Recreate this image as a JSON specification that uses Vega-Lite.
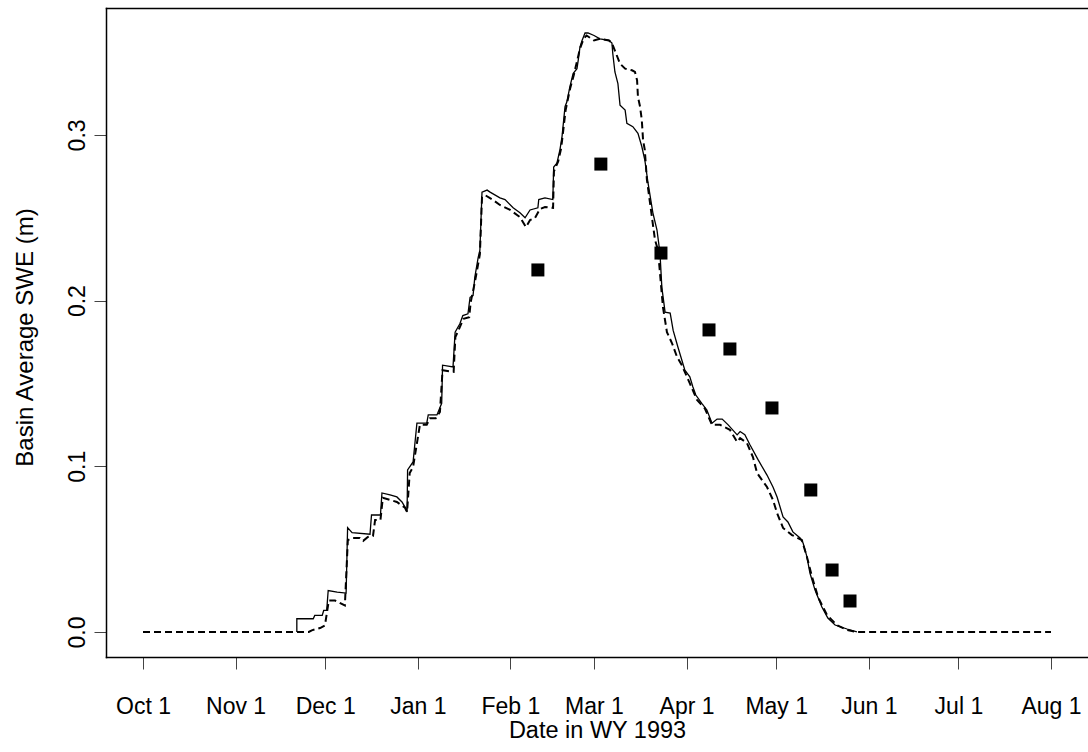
{
  "$schema": "https://vega.github.io/schema/vega-lite/v6.json",
  "width": 982,
  "height": 649,
  "autosize": {"type": "none"},
  "padding": {"left": 106, "top": 8, "right": 0, "bottom": 95},
  "background": "white",
  "config": {
    "view": {"stroke": null},
    "font": "Liberation Sans",
    "axis": {
      "labelFont": "Liberation Sans",
      "titleFont": "Liberation Sans",
      "labelColor": "#000",
      "titleColor": "#000",
      "titleFontWeight": "normal",
      "grid": false,
      "domainColor": "#000",
      "domainWidth": 1.5,
      "domainCap": "square",
      "tickColor": "#444",
      "tickWidth": 1,
      "tickSize": 12
    }
  },
  "datasets": {
    "sim1": [
      {"date": "1992-11-21T12:00Z", "swe": 0},
      {"date": "1992-11-21T12:00Z", "swe": 0.008},
      {"date": "1992-11-27T00:00Z", "swe": 0.008},
      {"date": "1992-11-27T12:00Z", "swe": 0.010},
      {"date": "1992-11-30T00:00Z", "swe": 0.010},
      {"date": "1992-11-30T12:00Z", "swe": 0.013},
      {"date": "1992-12-01T12:00Z", "swe": 0.013},
      {"date": "1992-12-02T00:00Z", "swe": 0.025},
      {"date": "1992-12-05T00:00Z", "swe": 0.024},
      {"date": "1992-12-08T00:00Z", "swe": 0.0235},
      {"date": "1992-12-08T12:00Z", "swe": 0.063},
      {"date": "1992-12-10T00:00Z", "swe": 0.060},
      {"date": "1992-12-16T00:00Z", "swe": 0.059},
      {"date": "1992-12-16T12:00Z", "swe": 0.0706},
      {"date": "1992-12-19T12:00Z", "swe": 0.0706},
      {"date": "1992-12-20T00:00Z", "swe": 0.0839},
      {"date": "1992-12-22T17:00Z", "swe": 0.0827},
      {"date": "1992-12-25T00:00Z", "swe": 0.0815},
      {"date": "1992-12-26T17:00Z", "swe": 0.0785},
      {"date": "1992-12-27T17:00Z", "swe": 0.0754},
      {"date": "1992-12-28T10:00Z", "swe": 0.0724},
      {"date": "1992-12-28T14:00Z", "swe": 0.0978},
      {"date": "1992-12-30T10:00Z", "swe": 0.1026},
      {"date": "1992-12-31T17:00Z", "swe": 0.126},
      {"date": "1993-01-04T00:00Z", "swe": 0.126},
      {"date": "1993-01-04T12:00Z", "swe": 0.131},
      {"date": "1993-01-07T10:00Z", "swe": 0.131},
      {"date": "1993-01-09T00:00Z", "swe": 0.138},
      {"date": "1993-01-09T07:00Z", "swe": 0.161},
      {"date": "1993-01-12T19:00Z", "swe": 0.160},
      {"date": "1993-01-13T12:00Z", "swe": 0.181},
      {"date": "1993-01-15T02:00Z", "swe": 0.186},
      {"date": "1993-01-16T02:00Z", "swe": 0.191},
      {"date": "1993-01-17T19:00Z", "swe": 0.192},
      {"date": "1993-01-18T12:00Z", "swe": 0.202},
      {"date": "1993-01-19T12:00Z", "swe": 0.203},
      {"date": "1993-01-20T02:00Z", "swe": 0.214},
      {"date": "1993-01-21T05:00Z", "swe": 0.226},
      {"date": "1993-01-21T19:00Z", "swe": 0.2305},
      {"date": "1993-01-22T12:00Z", "swe": 0.2655},
      {"date": "1993-01-24T05:00Z", "swe": 0.2667},
      {"date": "1993-01-25T05:00Z", "swe": 0.2655},
      {"date": "1993-01-28T12:00Z", "swe": 0.262},
      {"date": "1993-01-30T05:00Z", "swe": 0.261},
      {"date": "1993-02-01T22:00Z", "swe": 0.256},
      {"date": "1993-02-04T05:00Z", "swe": 0.253},
      {"date": "1993-02-05T22:00Z", "swe": 0.250},
      {"date": "1993-02-07T14:00Z", "swe": 0.2547},
      {"date": "1993-02-10T05:00Z", "swe": 0.256},
      {"date": "1993-02-10T12:00Z", "swe": 0.261},
      {"date": "1993-02-12T14:00Z", "swe": 0.262},
      {"date": "1993-02-15T05:00Z", "swe": 0.261},
      {"date": "1993-02-15T12:00Z", "swe": 0.2806},
      {"date": "1993-02-16T14:00Z", "swe": 0.283},
      {"date": "1993-02-17T14:00Z", "swe": 0.291},
      {"date": "1993-02-18T07:00Z", "swe": 0.299},
      {"date": "1993-02-19T07:00Z", "swe": 0.317},
      {"date": "1993-02-19T22:00Z", "swe": 0.320},
      {"date": "1993-02-20T22:00Z", "swe": 0.329},
      {"date": "1993-02-22T00:00Z", "swe": 0.337},
      {"date": "1993-02-23T07:00Z", "swe": 0.340},
      {"date": "1993-02-23T17:00Z", "swe": 0.345},
      {"date": "1993-02-24T07:00Z", "swe": 0.353},
      {"date": "1993-02-25T00:00Z", "swe": 0.357},
      {"date": "1993-02-26T00:00Z", "swe": 0.3615},
      {"date": "1993-02-27T00:00Z", "swe": 0.3615},
      {"date": "1993-03-01T00:00Z", "swe": 0.360},
      {"date": "1993-03-03T00:00Z", "swe": 0.358},
      {"date": "1993-03-06T00:00Z", "swe": 0.357},
      {"date": "1993-03-07T00:00Z", "swe": 0.3555},
      {"date": "1993-03-07T07:00Z", "swe": 0.349},
      {"date": "1993-03-08T00:00Z", "swe": 0.338},
      {"date": "1993-03-09T00:00Z", "swe": 0.331},
      {"date": "1993-03-09T17:00Z", "swe": 0.318},
      {"date": "1993-03-11T10:00Z", "swe": 0.315},
      {"date": "1993-03-12T00:00Z", "swe": 0.307},
      {"date": "1993-03-14T00:00Z", "swe": 0.305},
      {"date": "1993-03-15T17:00Z", "swe": 0.301},
      {"date": "1993-03-17T00:00Z", "swe": 0.293},
      {"date": "1993-03-18T00:00Z", "swe": 0.285},
      {"date": "1993-03-19T02:00Z", "swe": 0.271},
      {"date": "1993-03-20T17:00Z", "swe": 0.253},
      {"date": "1993-03-22T02:00Z", "swe": 0.2426},
      {"date": "1993-03-23T02:00Z", "swe": 0.2287},
      {"date": "1993-03-23T17:00Z", "swe": 0.208},
      {"date": "1993-03-24T19:00Z", "swe": 0.193},
      {"date": "1993-03-26T12:00Z", "swe": 0.1925},
      {"date": "1993-03-27T12:00Z", "swe": 0.182},
      {"date": "1993-03-29T02:00Z", "swe": 0.172},
      {"date": "1993-03-31T10:00Z", "swe": 0.158},
      {"date": "1993-04-02T02:00Z", "swe": 0.154},
      {"date": "1993-04-03T02:00Z", "swe": 0.148},
      {"date": "1993-04-04T02:00Z", "swe": 0.143},
      {"date": "1993-04-06T02:00Z", "swe": 0.138},
      {"date": "1993-04-07T19:00Z", "swe": 0.134},
      {"date": "1993-04-09T12:00Z", "swe": 0.126},
      {"date": "1993-04-11T05:00Z", "swe": 0.1285},
      {"date": "1993-04-12T22:00Z", "swe": 0.1285},
      {"date": "1993-04-14T22:00Z", "swe": 0.125},
      {"date": "1993-04-17T22:00Z", "swe": 0.119},
      {"date": "1993-04-18T22:00Z", "swe": 0.121},
      {"date": "1993-04-20T12:00Z", "swe": 0.119},
      {"date": "1993-04-22T05:00Z", "swe": 0.113},
      {"date": "1993-04-24T22:00Z", "swe": 0.104},
      {"date": "1993-04-27T22:00Z", "swe": 0.0947},
      {"date": "1993-04-29T22:00Z", "swe": 0.0875},
      {"date": "1993-05-01T07:00Z", "swe": 0.0815},
      {"date": "1993-05-03T07:00Z", "swe": 0.0694},
      {"date": "1993-05-04T22:00Z", "swe": 0.0664},
      {"date": "1993-05-06T14:00Z", "swe": 0.0604},
      {"date": "1993-05-09T00:00Z", "swe": 0.0567},
      {"date": "1993-05-10T00:00Z", "swe": 0.0537},
      {"date": "1993-05-11T07:00Z", "swe": 0.0453},
      {"date": "1993-05-12T07:00Z", "swe": 0.0356},
      {"date": "1993-05-14T00:00Z", "swe": 0.0253},
      {"date": "1993-05-16T07:00Z", "swe": 0.0151},
      {"date": "1993-05-18T07:00Z", "swe": 0.0084},
      {"date": "1993-05-20T17:00Z", "swe": 0.0042},
      {"date": "1993-05-24T17:00Z", "swe": 0.0018},
      {"date": "1993-05-28T00:00Z", "swe": 0}
    ],
    "sim2": [
      {"date": "1992-10-01T00:00Z", "swe": 0},
      {"date": "1992-11-25T12:00Z", "swe": 0},
      {"date": "1992-11-26T12:00Z", "swe": 0.001},
      {"date": "1992-11-29T07:00Z", "swe": 0.0024},
      {"date": "1992-11-30T22:00Z", "swe": 0.004},
      {"date": "1992-12-01T00:00Z", "swe": 0.005},
      {"date": "1992-12-02T05:00Z", "swe": 0.019},
      {"date": "1992-12-04T07:00Z", "swe": 0.019},
      {"date": "1992-12-07T14:00Z", "swe": 0.016},
      {"date": "1992-12-08T14:00Z", "swe": 0.0555},
      {"date": "1992-12-10T00:00Z", "swe": 0.0567},
      {"date": "1992-12-12T14:00Z", "swe": 0.0567},
      {"date": "1992-12-13T17:00Z", "swe": 0.055},
      {"date": "1992-12-15T07:00Z", "swe": 0.0573},
      {"date": "1992-12-17T00:00Z", "swe": 0.058},
      {"date": "1992-12-17T17:00Z", "swe": 0.0676},
      {"date": "1992-12-19T12:00Z", "swe": 0.0676},
      {"date": "1992-12-20T07:00Z", "swe": 0.081},
      {"date": "1992-12-25T00:00Z", "swe": 0.0785},
      {"date": "1992-12-27T17:00Z", "swe": 0.075},
      {"date": "1992-12-28T10:00Z", "swe": 0.0724},
      {"date": "1992-12-29T07:00Z", "swe": 0.096},
      {"date": "1992-12-30T10:00Z", "swe": 0.0996},
      {"date": "1993-01-01T17:00Z", "swe": 0.125},
      {"date": "1993-01-04T00:00Z", "swe": 0.125},
      {"date": "1993-01-05T02:00Z", "swe": 0.129},
      {"date": "1993-01-07T00:00Z", "swe": 0.129},
      {"date": "1993-01-08T10:00Z", "swe": 0.1328},
      {"date": "1993-01-09T07:00Z", "swe": 0.158},
      {"date": "1993-01-13T00:00Z", "swe": 0.157},
      {"date": "1993-01-13T14:00Z", "swe": 0.178},
      {"date": "1993-01-15T02:00Z", "swe": 0.184},
      {"date": "1993-01-16T07:00Z", "swe": 0.189},
      {"date": "1993-01-18T05:00Z", "swe": 0.190},
      {"date": "1993-01-18T17:00Z", "swe": 0.199},
      {"date": "1993-01-20T05:00Z", "swe": 0.212},
      {"date": "1993-01-21T19:00Z", "swe": 0.228},
      {"date": "1993-01-22T12:00Z", "swe": 0.2625},
      {"date": "1993-01-23T12:00Z", "swe": 0.2637},
      {"date": "1993-01-26T05:00Z", "swe": 0.2607},
      {"date": "1993-01-28T12:00Z", "swe": 0.2577},
      {"date": "1993-01-31T22:00Z", "swe": 0.2547},
      {"date": "1993-02-04T05:00Z", "swe": 0.2504},
      {"date": "1993-02-06T05:00Z", "swe": 0.2444},
      {"date": "1993-02-07T14:00Z", "swe": 0.2486},
      {"date": "1993-02-09T05:00Z", "swe": 0.2498},
      {"date": "1993-02-10T22:00Z", "swe": 0.2553},
      {"date": "1993-02-12T14:00Z", "swe": 0.2565},
      {"date": "1993-02-15T07:00Z", "swe": 0.2559},
      {"date": "1993-02-15T14:00Z", "swe": 0.278},
      {"date": "1993-02-17T00:00Z", "swe": 0.284},
      {"date": "1993-02-18T00:00Z", "swe": 0.292},
      {"date": "1993-02-19T12:00Z", "swe": 0.315},
      {"date": "1993-02-21T00:00Z", "swe": 0.328},
      {"date": "1993-02-22T05:00Z", "swe": 0.336},
      {"date": "1993-02-24T07:00Z", "swe": 0.352},
      {"date": "1993-02-25T12:00Z", "swe": 0.358},
      {"date": "1993-02-26T12:00Z", "swe": 0.360},
      {"date": "1993-03-01T00:00Z", "swe": 0.357},
      {"date": "1993-03-03T00:00Z", "swe": 0.358},
      {"date": "1993-03-06T00:00Z", "swe": 0.357},
      {"date": "1993-03-07T00:00Z", "swe": 0.3555},
      {"date": "1993-03-09T17:00Z", "swe": 0.343},
      {"date": "1993-03-11T10:00Z", "swe": 0.340},
      {"date": "1993-03-13T17:00Z", "swe": 0.339},
      {"date": "1993-03-14T17:00Z", "swe": 0.338},
      {"date": "1993-03-15T10:00Z", "swe": 0.333},
      {"date": "1993-03-15T17:00Z", "swe": 0.323},
      {"date": "1993-03-16T10:00Z", "swe": 0.317},
      {"date": "1993-03-17T00:00Z", "swe": 0.309},
      {"date": "1993-03-17T10:00Z", "swe": 0.297},
      {"date": "1993-03-18T00:00Z", "swe": 0.291},
      {"date": "1993-03-18T17:00Z", "swe": 0.273},
      {"date": "1993-03-21T10:00Z", "swe": 0.2366},
      {"date": "1993-03-22T10:00Z", "swe": 0.2305},
      {"date": "1993-03-23T02:00Z", "swe": 0.2167},
      {"date": "1993-03-24T02:00Z", "swe": 0.196},
      {"date": "1993-03-25T10:00Z", "swe": 0.181},
      {"date": "1993-03-27T02:00Z", "swe": 0.1744},
      {"date": "1993-03-28T19:00Z", "swe": 0.166},
      {"date": "1993-03-30T10:00Z", "swe": 0.161},
      {"date": "1993-04-02T02:00Z", "swe": 0.150},
      {"date": "1993-04-04T12:00Z", "swe": 0.140},
      {"date": "1993-04-07T02:00Z", "swe": 0.135},
      {"date": "1993-04-09T12:00Z", "swe": 0.125},
      {"date": "1993-04-12T05:00Z", "swe": 0.125},
      {"date": "1993-04-15T12:00Z", "swe": 0.122},
      {"date": "1993-04-17T22:00Z", "swe": 0.1147},
      {"date": "1993-04-18T22:00Z", "swe": 0.117},
      {"date": "1993-04-21T05:00Z", "swe": 0.114},
      {"date": "1993-04-23T05:00Z", "swe": 0.1056},
      {"date": "1993-04-24T14:00Z", "swe": 0.096},
      {"date": "1993-04-27T22:00Z", "swe": 0.0875},
      {"date": "1993-04-29T22:00Z", "swe": 0.0797},
      {"date": "1993-05-01T07:00Z", "swe": 0.0718},
      {"date": "1993-05-03T07:00Z", "swe": 0.0628},
      {"date": "1993-05-06T07:00Z", "swe": 0.0585},
      {"date": "1993-05-09T14:00Z", "swe": 0.0555},
      {"date": "1993-05-11T07:00Z", "swe": 0.0453},
      {"date": "1993-05-13T00:00Z", "swe": 0.0332},
      {"date": "1993-05-15T00:00Z", "swe": 0.0211},
      {"date": "1993-05-18T00:00Z", "swe": 0.0103},
      {"date": "1993-05-21T07:00Z", "swe": 0.0042},
      {"date": "1993-05-24T17:00Z", "swe": 0.0012},
      {"date": "1993-05-28T00:00Z", "swe": 0},
      {"date": "1993-08-01T00:00Z", "swe": 0}
    ],
    "obs": [
      {"date": "1993-02-10T05:00Z", "swe": 0.2185},
      {"date": "1993-03-03T07:00Z", "swe": 0.2824},
      {"date": "1993-03-23T10:00Z", "swe": 0.2287},
      {"date": "1993-04-08T12:00Z", "swe": 0.1823},
      {"date": "1993-04-15T12:00Z", "swe": 0.1708},
      {"date": "1993-04-29T14:00Z", "swe": 0.1352},
      {"date": "1993-05-12T14:00Z", "swe": 0.0857},
      {"date": "1993-05-19T17:00Z", "swe": 0.0374},
      {"date": "1993-05-25T17:00Z", "swe": 0.0187}
    ]
  },
  "resolve": {"axis": {"x": "independent"}},
  "layer": [
    {
      "data": {"name": "sim1"},
      "mark": {"type": "line", "color": "#000", "strokeWidth": 1.3},
      "encoding": {
        "x": {
          "field": "date", "type": "temporal",
          "scale": {"type": "utc", "nice": false,
            "domain": [{"year": 1992, "month": 9, "date": 18, "hours": 14, "minutes": 38, "utc": true},
                       {"year": 1993, "month": 8, "date": 13, "hours": 9, "minutes": 22, "utc": true}]},
          "axis": {
            "orient": "bottom",
            "title": "Date in WY 1993",
            "values": [
              {"year": 1992, "month": 10, "date": 1, "utc": true},
              {"year": 1992, "month": 11, "date": 1, "utc": true},
              {"year": 1992, "month": 12, "date": 1, "utc": true},
              {"year": 1993, "month": 1, "date": 1, "utc": true},
              {"year": 1993, "month": 2, "date": 1, "utc": true},
              {"year": 1993, "month": 3, "date": 1, "utc": true},
              {"year": 1993, "month": 4, "date": 1, "utc": true},
              {"year": 1993, "month": 5, "date": 1, "utc": true},
              {"year": 1993, "month": 6, "date": 1, "utc": true},
              {"year": 1993, "month": 7, "date": 1, "utc": true},
              {"year": 1993, "month": 8, "date": 1, "utc": true}
            ],
            "labelExpr": "utcFormat(datum.value, '%b %-d')",
            "labelFontSize": 23,
            "labelPadding": 26,
            "labelOverlap": false,
            "labelFlush": false,
            "titleFontSize": 23.5,
            "titleBaseline": "alphabetic",
            "titleY": 80
          }
        },
        "y": {
          "field": "swe", "type": "quantitative",
          "scale": {"domain": [-0.0151, 0.3766], "nice": false, "zero": false},
          "axis": {
            "title": "Basin Average SWE (m)",
            "values": [0, 0.1, 0.2, 0.3],
            "format": ".1f",
            "labelFontSize": 23,
            "labelAngle": -90,
            "labelAlign": "center",
            "labelBaseline": "alphabetic",
            "labelPadding": 10,
            "titleFontSize": 24,
            "titleAngle": -90,
            "titleBaseline": "alphabetic",
            "titleX": -74,
            "titleY": 329
          }
        }
      }
    },
    {
      "data": {"name": "sim2"},
      "mark": {"type": "line", "color": "#000", "strokeWidth": 2, "strokeDash": [7, 4]},
      "encoding": {
        "x": {
          "field": "date", "type": "temporal",
          "scale": {"type": "utc", "nice": false,
            "domain": [{"year": 1992, "month": 9, "date": 18, "hours": 14, "minutes": 38, "utc": true},
                       {"year": 1993, "month": 8, "date": 13, "hours": 9, "minutes": 22, "utc": true}]},
          "axis": {"orient": "top", "title": null, "labels": false, "ticks": false, "domain": true}
        },
        "y": {"field": "swe", "type": "quantitative", "scale": {"domain": [-0.0151, 0.3766], "nice": false, "zero": false}}
      }
    },
    {
      "data": {"name": "obs"},
      "mark": {"type": "square", "color": "#000", "size": 169, "opacity": 1},
      "encoding": {
        "x": {
          "field": "date", "type": "temporal",
          "scale": {"type": "utc", "nice": false,
            "domain": [{"year": 1992, "month": 9, "date": 18, "hours": 14, "minutes": 38, "utc": true},
                       {"year": 1993, "month": 8, "date": 13, "hours": 9, "minutes": 22, "utc": true}]},
          "axis": null
        },
        "y": {"field": "swe", "type": "quantitative", "scale": {"domain": [-0.0151, 0.3766], "nice": false, "zero": false}}
      }
    }
  ]
}
